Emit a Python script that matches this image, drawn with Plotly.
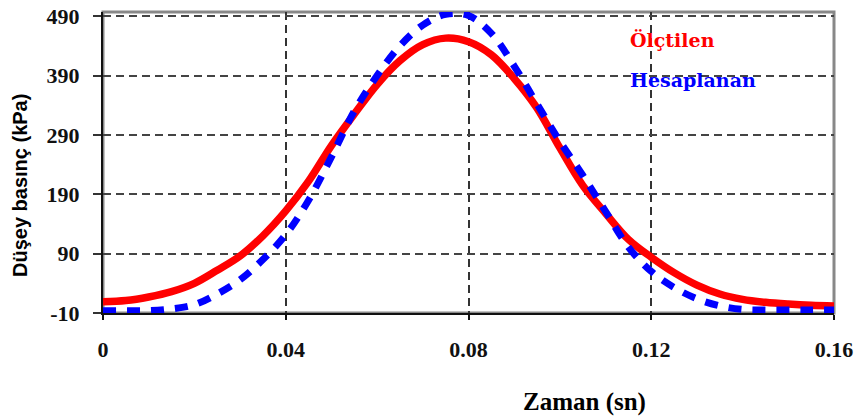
import plotly.graph_objects as go

# Data
time_s = [0.000, 0.005, 0.010, 0.015, 0.020, 0.025, 0.030, 0.035, 0.040, 0.045,
          0.050, 0.055, 0.060, 0.065, 0.070, 0.075, 0.080, 0.085, 0.090, 0.095,
          0.100, 0.105, 0.110, 0.115, 0.120, 0.125, 0.130, 0.135, 0.140, 0.145,
          0.150, 0.155, 0.160]
olculen = [9, 11, 17, 26, 40, 62, 86, 120, 162, 212,
           272, 325, 375, 415, 442, 453, 447, 425, 385, 335,
           268, 205, 158, 114, 84, 58, 37, 22, 13, 8,
           5, 3, 2]
hesaplanan = [-6, -6, -6, -3, 4, 22, 46, 80, 122, 180,
              253, 330, 390, 440, 475, 493, 491, 461, 406, 342,
              279, 222, 161, 101, 60, 33, 14, 2, -4, -5,
              -5, -5, -5]
x_ticks = [0, 0.04, 0.08, 0.12, 0.16]
x_tick_labels = ["0", "0.04", "0.08", "0.12", "0.16"]
y_ticks = [-10, 90, 190, 290, 390, 490]
y_tick_labels = ["-10", "90", "190", "290", "390", "490"]

fig = go.Figure()
fig.add_trace(go.Scatter(x=time_s, y=olculen, mode="lines", name="Ölçtilen",
                         line=dict(color="#FF0000", width=7.5, shape="spline"),
                         cliponaxis=True))
fig.add_trace(go.Scatter(x=time_s, y=hesaplanan, mode="lines", name="Hesaplanan",
                         line=dict(color="#0000FF", width=7, shape="spline",
                                   dash="13px,11px"),
                         cliponaxis=True))

tick_font = dict(family="Liberation Serif", size=22, color="#111111", weight="bold")

fig.update_layout(
    width=857, height=418,
    margin=dict(l=103, r=23, t=12, b=105),
    paper_bgcolor="white", plot_bgcolor="white",
    showlegend=False,
    xaxis=dict(range=[0, 0.16], tickvals=x_ticks, ticktext=x_tick_labels,
               automargin=False,
               showgrid=True, gridcolor="#333333", gridwidth=1.5, griddash="8px,5px",
               zeroline=False, showline=True, linecolor="#111111", linewidth=2,
               ticks="outside", ticklen=5, tickwidth=2, tickcolor="#111111",
               tickfont=tick_font, ticklabelstandoff=11, layer="below traces"),
    yaxis=dict(range=[-10, 497], tickvals=y_ticks, ticktext=y_tick_labels,
               automargin=False,
               showgrid=True, gridcolor="#444444", gridwidth=1.5, griddash="8px,5px",
               zeroline=False, showline=True, linecolor="#111111", linewidth=2,
               ticks="outside", ticklen=8, tickwidth=2, tickcolor="#333333",
               tickfont=tick_font, ticklabelstandoff=9, layer="below traces"),
    shapes=[dict(type="rect", xref="paper", yref="paper", x0=0, x1=1, y0=0, y1=1,
                 line=dict(color="#888888", width=3), layer="below")],
    annotations=[
        dict(text="Ölçtilen", xref="paper", yref="paper", x=(628 - 103) / 731, y=1 - (40 - 12) / 301,
             xanchor="left", yanchor="middle", showarrow=False,
             font=dict(family="DejaVu Serif", size=19, color="#FF0000", weight="bold")),
        dict(text="Hesaplanan", xref="paper", yref="paper", x=(628 - 103) / 731, y=1 - (80 - 12) / 301,
             xanchor="left", yanchor="middle", showarrow=False,
             font=dict(family="DejaVu Serif", size=19, color="#0000FF", weight="bold")),
        dict(text="Zaman (sn)", xref="paper", yref="paper", x=(584 - 103) / 731, y=-(402 - 313) / 301,
             xanchor="center", yanchor="middle", showarrow=False,
             font=dict(family="Liberation Serif", size=25, color="#000000", weight="bold")),
        dict(text="Düşey basınç (kPa)", xref="paper", yref="paper", x=-(103 - 20) / 731, y=1 - (186 - 12) / 301,
             xanchor="center", yanchor="middle", showarrow=False, textangle=-90,
             font=dict(family="Liberation Sans", size=20, color="#000000", weight="bold")),
    ],
)

fig.write_html("out.html")
